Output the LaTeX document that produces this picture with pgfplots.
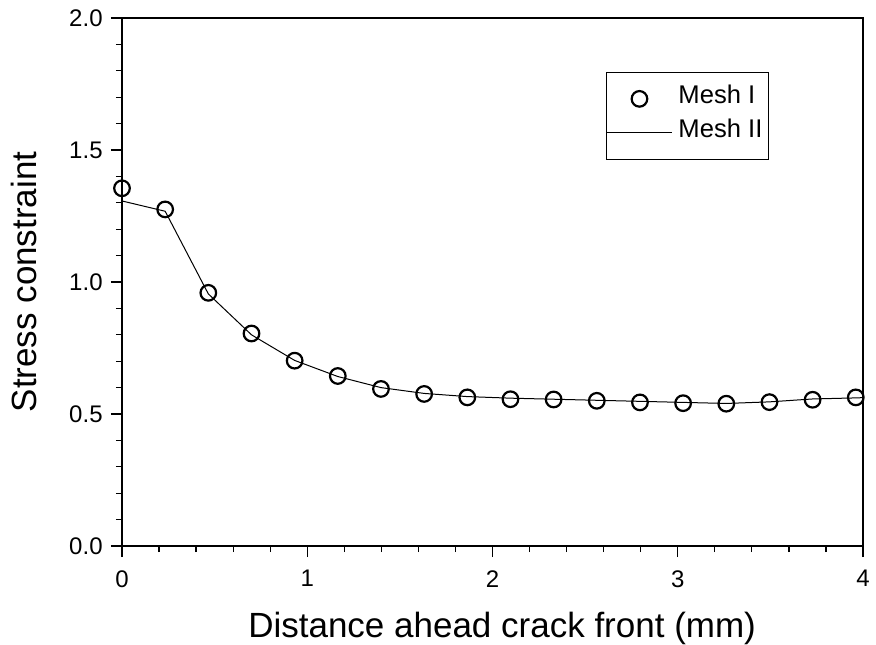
\documentclass[border=0pt]{standalone}
\usepackage{fontspec}
\setmainfont{Liberation Sans}
\usepackage{pgfplots}
\pgfplotsset{compat=1.18}
\pgfplotsset{
  markleg/.style={legend image code/.code={\draw[mark repeat=2,mark phase=2,##1] plot coordinates {(0pt,0pt)(16.25pt,0pt)(32.5pt,0pt)};}},
  lineleg/.style={legend image code/.code={\draw[##1] (0pt,0pt) -- (32.5pt,0pt);}},
}
\newcommand\ticktext[1]{{\fontsize{12pt}{14pt}\selectfont #1}}
\tikzset{
  xlab/.style={anchor=north, inner sep=0pt, yshift=-12pt},
  ylab/.style={anchor=east, inner sep=0pt, xshift=-9.5pt},
}

\begin{document}
\begin{tikzpicture}
\begin{axis}[
  scale only axis,
  width=370.5pt, height=264pt,
  xmin=0, xmax=4, ymin=0, ymax=2,
  clip=false,
  xtick={0,1,2,3,4},
  ytick={0,0.5,1,1.5,2},
  xticklabels={}, yticklabels={},
  minor x tick num=4,
  minor y tick num=4,
  xtick pos=bottom, ytick pos=left,
  tick align=outside,
  major tick length=5.5pt,
  minor tick length=3pt,
  every tick/.style={black, line width=0.6pt},
  axis line style={black, line width=0.9pt},
  xlabel={Distance ahead crack front (mm)},
  ylabel={Stress constraint},
  xlabel style={at={([yshift=-45.5pt]axis description cs:0.513,0)}, anchor=base, font=\fontsize{17.5pt}{20pt}\selectfont},
  ylabel style={at={([xshift=-42.5pt]axis description cs:0,0.5)}, anchor=base, font=\fontsize{17.5pt}{20pt}\selectfont},
  legend style={at={(0.873,0.898)}, anchor=north east, draw=black, line width=0.5pt,
    inner xsep=0pt, inner ysep=6pt, row sep=2.5pt,
    font=\fontsize{12.8pt}{15pt}\selectfont,
    nodes={inner xsep=3pt, inner ysep=0pt, text height=9.5pt, text depth=5pt}},
  legend cell align=left,
]
% Mesh I: nodal values
\addplot[only marks, mark=o, mark size=3.9pt, line width=1.1pt, black, markleg]
  coordinates {
  (0.000,1.355) (0.233,1.275) (0.466,0.959) (0.699,0.805) (0.932,0.702)
  (1.165,0.644) (1.398,0.595) (1.631,0.576) (1.864,0.563) (2.097,0.556)
  (2.330,0.555) (2.563,0.550) (2.796,0.544) (3.029,0.541) (3.262,0.539)
  (3.495,0.545) (3.728,0.554) (3.961,0.563)
  };
\addlegendentry{Mesh I}
% Mesh II: refined mesh
\addplot[black, line width=0.5pt, no marks, lineleg]
  coordinates {
  (0.000,1.307) (0.233,1.268) (0.466,0.955) (0.699,0.800) (0.932,0.703)
  (1.165,0.642) (1.398,0.600) (1.631,0.578) (1.864,0.566) (2.097,0.560)
  (2.330,0.556) (2.563,0.552) (2.796,0.548) (3.029,0.544) (3.262,0.540)
  (3.495,0.546) (3.728,0.557) (3.961,0.561) (4.000,0.562)
  };
\addlegendentry{Mesh II}
% tick labels
\node[xlab] at (axis cs:0,0) {\ticktext{0}};
\node[xlab] at (axis cs:1,0) {\ticktext{1}};
\node[xlab] at (axis cs:2,0) {\ticktext{2}};
\node[xlab] at (axis cs:3,0) {\ticktext{3}};
\node[xlab] at (axis cs:4,0) {\ticktext{4}};
\node[ylab] at (axis cs:0,0)   {\ticktext{0.0}};
\node[ylab] at (axis cs:0,0.5) {\ticktext{0.5}};
\node[ylab] at (axis cs:0,1)   {\ticktext{1.0}};
\node[ylab] at (axis cs:0,1.5) {\ticktext{1.5}};
\node[ylab] at (axis cs:0,2)   {\ticktext{2.0}};
\end{axis}
\pgfresetboundingbox
\path[use as bounding box] ([shift={(-61pt,-49pt)}]current axis.south west) rectangle ([shift={(6.5pt,9pt)}]current axis.north east);
\end{tikzpicture}
\end{document}
